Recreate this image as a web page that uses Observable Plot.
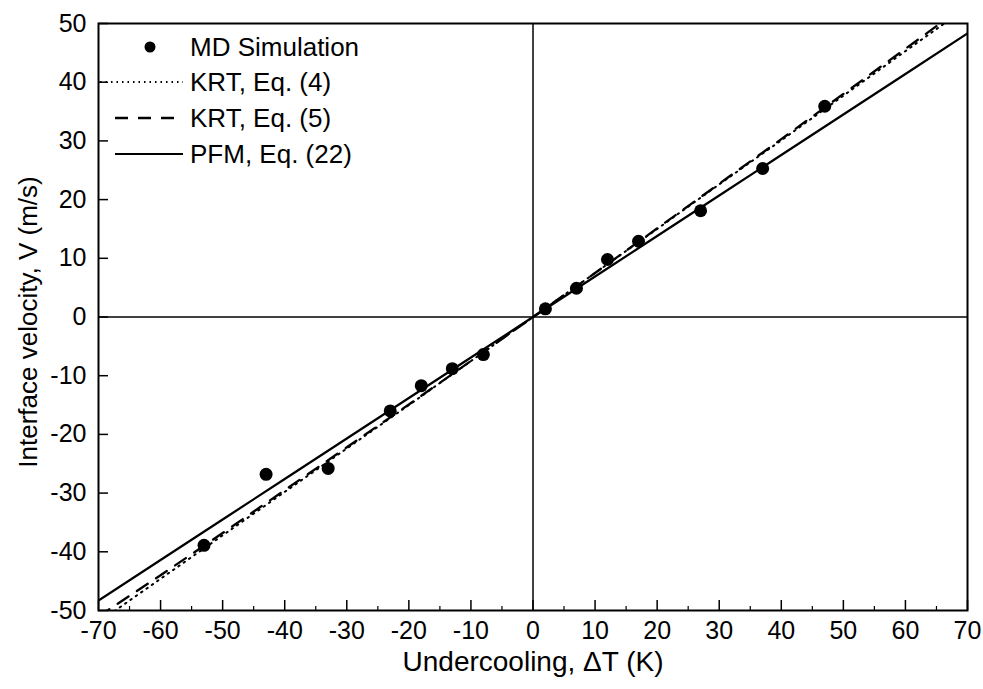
<!DOCTYPE html>
<html><head><meta charset="utf-8">
<script src="https://cdn.jsdelivr.net/npm/d3@7"></script>
<script src="https://cdn.jsdelivr.net/npm/@observablehq/plot@0.6"></script>
<style>
body{margin:0;background:#fff;font-family:"Liberation Sans",Arial,sans-serif;}
#wrap{position:relative;width:983px;height:689px;}
</style></head><body><div id="wrap"></div>
<script>
// MD simulation points
const mdX = [-53, -43, -33, -23, -18, -13, -8, 2, 7, 12, 17, 27, 37, 47];
const mdV = [-38.9, -26.8, -25.8, -16.0, -11.7, -8.8, -6.4, 1.4, 4.9, 9.8, 12.9, 18.1, 25.3, 35.9];
// model curves
const lineX = [-70, -60, -50, -40, -30, -20, -10, 0, 10, 20, 30, 40, 50, 60, 70];
const krt4V = [-52.0, -44.6, -37.2, -29.8, -22.4, -15.0, -7.5, 0, 7.5, 15.0, 22.6, 30.1, 37.7, 45.3, 52.8];
const krt5V = [-51.0, -44.0, -36.8, -29.5, -22.2, -14.9, -7.5, 0, 7.5, 15.1, 22.7, 30.3, 38.0, 45.7, 53.4];
const pfmV  = [-48.3, -41.4, -34.5, -27.6, -20.7, -13.8, -6.9, 0, 6.9, 13.8, 20.7, 27.6, 34.5, 41.4, 48.3];
// ticks
const xTicks = [-70, -60, -50, -40, -30, -20, -10, 0, 10, 20, 30, 40, 50, 60, 70];
const xMinor = [-65, -55, -45, -35, -25, -15, -5, 5, 15, 25, 35, 45, 55, 65];
const yTicks = [-50, -40, -30, -20, -10, 0, 10, 20, 30, 40, 50];
const legendLabels = ["MD Simulation", "KRT, Eq. (4)", "KRT, Eq. (5)", "PFM, Eq. (22)"];
const xTitle = "Undercooling, \u0394T (K)";
const yTitle = "Interface velocity, V (m/s)";

const W = 983, H = 689, mL = 98, mR = 16, mT = 23, mB = 79;
const innerW = W - mL - mR, innerH = H - mT - mB;

const md = mdX.map((x, i) => ({x, v: mdV[i]}));
const mk = arr => lineX.map((x, i) => ({x, v: arr[i]}));

const chart = Plot.plot({
  width: W, height: H,
  marginLeft: mL, marginRight: mR, marginTop: mT, marginBottom: mB,
  style: {fontFamily: "Liberation Sans, Arial, sans-serif", background: "#fff", color: "#000"},
  x: {domain: [-70, 70], axis: null},
  y: {domain: [-50, 50], axis: null},
  marks: [
    Plot.ruleX([0], {stroke: "#000", strokeWidth: 1.5}),
    Plot.ruleY([0], {stroke: "#000", strokeWidth: 1.5}),
    Plot.line(mk(krt4V), {x: "x", y: "v", stroke: "#000", strokeWidth: 2, strokeDasharray: "1.5,5", clip: true}),
    Plot.line(mk(krt5V), {x: "x", y: "v", stroke: "#000", strokeWidth: 2.3, strokeDasharray: "13,10", clip: true}),
    Plot.line(mk(pfmV), {x: "x", y: "v", stroke: "#000", strokeWidth: 2.2, clip: true}),
    Plot.dot(md, {x: "x", y: "v", r: 6.5, fill: "#000", stroke: null}),
    Plot.ruleX(xTicks, {stroke: "#000", strokeWidth: 1.5, insetTop: innerH - 10}),
    Plot.ruleX(xMinor, {stroke: "#000", strokeWidth: 1.2, insetTop: innerH - 4}),
    Plot.ruleY(yTicks, {stroke: "#000", strokeWidth: 1.5, insetRight: innerW - 10}),
    Plot.frame({stroke: "#000", strokeWidth: 2}),
    Plot.axisX(xTicks, {tickSize: 0, tickPadding: 11, tickFormat: d => String(d), fontSize: 25, label: null, color: "#000"}),
    Plot.axisY(yTicks, {tickSize: 0, tickPadding: 12, tickFormat: d => String(d), fontSize: 25, label: null, color: "#000"}),
    Plot.text([xTitle], {frameAnchor: "bottom", dy: 60, fontSize: 28, fill: "#000"}),
    Plot.text([yTitle], {frameAnchor: "left", textAnchor: "middle", rotate: -90, dx: -70, dy: 5, fontSize: 26, fill: "#000"})
  ]
});

// legend
const svg = d3.select(chart);
const lg = svg.append("g").attr("font-family", "Liberation Sans, Arial, sans-serif").attr("font-size", 26).attr("text-anchor", "start");
const rows = [47, 82, 118, 154];
lg.append("circle").attr("cx", 150).attr("cy", rows[0]).attr("r", 5.5).attr("fill", "#000");
lg.append("line").attr("x1", 100).attr("x2", 183).attr("y1", rows[1]).attr("y2", rows[1]).attr("stroke", "#000").attr("stroke-width", 2).attr("stroke-dasharray", "1.5,4");
lg.append("line").attr("x1", 115).attr("x2", 175).attr("y1", rows[2]).attr("y2", rows[2]).attr("stroke", "#000").attr("stroke-width", 2.3).attr("stroke-dasharray", "13,10");
lg.append("line").attr("x1", 115).attr("x2", 183).attr("y1", rows[3]).attr("y2", rows[3]).attr("stroke", "#000").attr("stroke-width", 2.2);
legendLabels.forEach((t, i) => {
  lg.append("text").attr("x", 190).attr("y", rows[i]).attr("dy", "0.35em").attr("fill", "#000").attr("text-anchor", "start").text(t);
});

document.getElementById("wrap").appendChild(chart);
</script>
</body></html>
